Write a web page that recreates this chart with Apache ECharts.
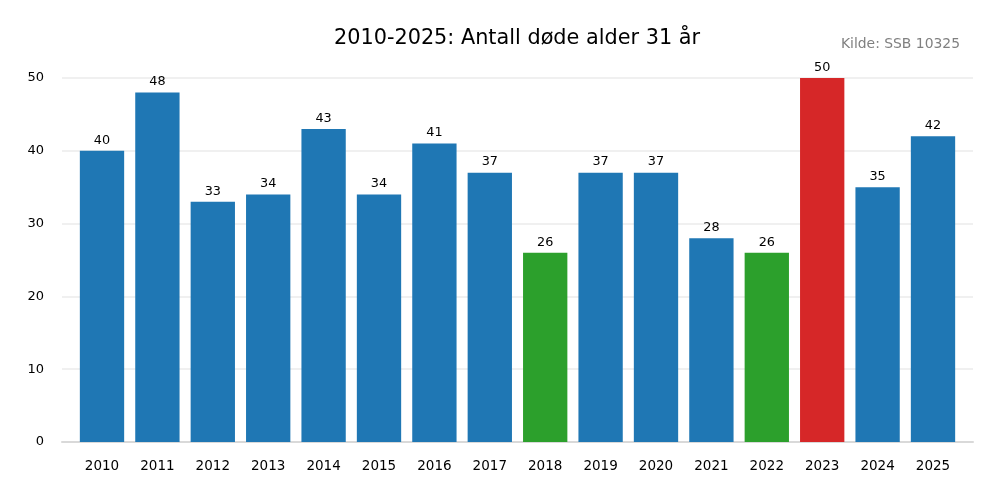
<!DOCTYPE html>
<html>
<head>
<meta charset="utf-8">
<script src="https://cdn.jsdelivr.net/npm/echarts@6/dist/echarts.min.js"></script>
<style>html,body{margin:0;padding:0;background:#fff}#c{width:1000px;height:500px}</style>
</head>
<body>
<div id="c"></div>
<script>
const years = ['2010','2011','2012','2013','2014','2015','2016','2017','2018','2019','2020','2021','2022','2023','2024','2025'];
const deaths = [40,48,33,34,43,34,41,37,26,37,37,28,26,50,35,42];
const barColors = ['#1f77b4','#1f77b4','#1f77b4','#1f77b4','#1f77b4','#1f77b4','#1f77b4','#1f77b4','#2ca02c','#1f77b4','#1f77b4','#1f77b4','#2ca02c','#d62728','#1f77b4','#1f77b4'];
const yTicks = [0,10,20,30,40,50];
const titleText = '2010-2025: Antall døde alder 31 år';
const sourceText = 'Kilde: SSB 10325';

const font = 'DejaVu Sans';
const chart = echarts.init(document.getElementById('c'), null, {renderer:'canvas'});
chart.setOption({
  animation:false,
  backgroundColor:'#fff',
  textStyle:{fontFamily:font},
  title:[
    {text:titleText, left:512, top:23, textAlign:'center',
     textStyle:{fontFamily:font, fontSize:20.8, fontWeight:'normal', color:'#000'}},
    {text:sourceText, right:35, top:32,
     textStyle:{fontFamily:font, fontSize:13.9, fontWeight:'normal', color:'#808080'}}
  ],
  grid:[
    {left:62, right:27, top:78, bottom:58},
    {left:74.3, right:39.3, top:78, bottom:58}
  ],
  xAxis:[
    {gridIndex:0, type:'value', min:0, max:1, axisLabel:{show:false}, axisTick:{show:false},
     splitLine:{show:false}, axisLine:{show:true, lineStyle:{color:'#d9d9d9', width:2}}},
    {gridIndex:1, type:'category', data:years, axisLine:{show:false}, axisTick:{show:false},
     axisLabel:{color:'#000', fontSize:13.5, fontFamily:font, margin:17}}
  ],
  yAxis:[
    {gridIndex:0, type:'value', min:yTicks[0], max:yTicks[yTicks.length-1], interval:10,
     axisLine:{show:false}, axisTick:{show:false},
     axisLabel:{color:'#000', fontSize:13, fontFamily:font, margin:18},
     splitLine:{show:true, lineStyle:{color:'#ebebeb', width:1.5}}},
    {gridIndex:1, type:'value', min:yTicks[0], max:yTicks[yTicks.length-1], show:false, splitLine:{show:false}}
  ],
  series:[{
    type:'bar', xAxisIndex:1, yAxisIndex:1, barWidth:'80%',
    data: deaths.map((v,i)=>({value:v, itemStyle:{color:barColors[i]}})),
    label:{show:true, position:'top', distance:4, color:'#000', fontSize:12.8, fontFamily:font}
  }]
});
</script>
</body>
</html>
